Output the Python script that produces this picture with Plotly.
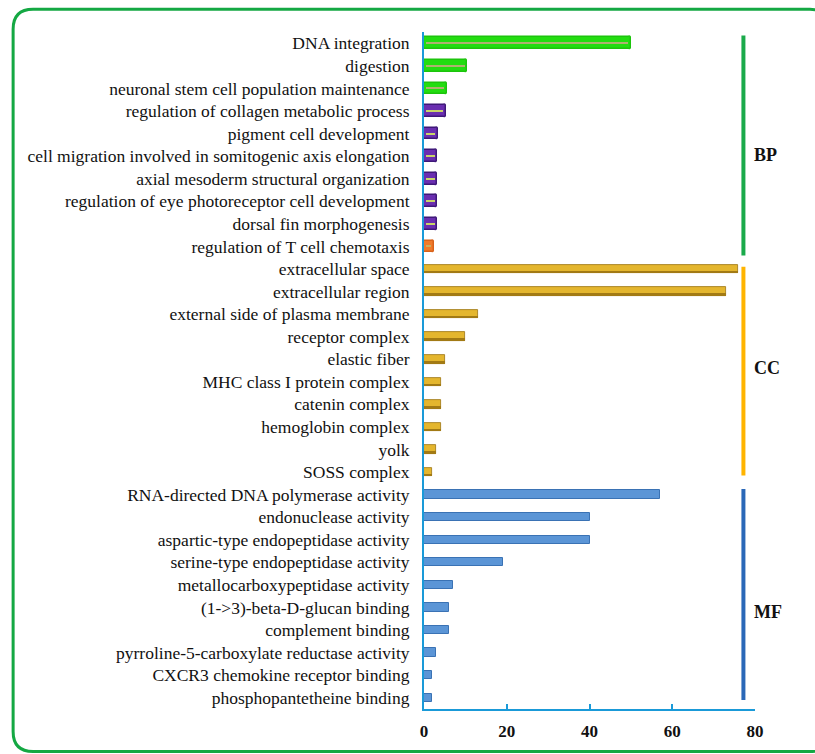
import plotly.graph_objects as go

# GO terms, top to bottom
bp_terms = [
    "DNA integration",
    "digestion",
    "neuronal stem cell population maintenance",
    "regulation of collagen metabolic process",
    "pigment cell development",
    "cell migration involved in somitogenic axis elongation",
    "axial mesoderm structural organization",
    "regulation of eye photoreceptor cell development",
    "dorsal fin morphogenesis",
    "regulation of T cell chemotaxis",
]
bp_counts = [50, 10.5, 5.5, 5.3, 3.3, 3.2, 3.2, 3.2, 3.2, 2.4]

cc_terms = [
    "extracellular space",
    "extracellular region",
    "external side of plasma membrane",
    "receptor complex",
    "elastic fiber",
    "MHC class I protein complex",
    "catenin complex",
    "hemoglobin complex",
    "yolk",
    "SOSS complex",
]
cc_counts = [76, 73, 13, 10, 5, 4, 4, 4, 3, 2]

mf_terms = [
    "RNA-directed DNA polymerase activity",
    "endonuclease activity",
    "aspartic-type endopeptidase activity",
    "serine-type endopeptidase activity",
    "metallocarboxypeptidase activity",
    "(1->3)-beta-D-glucan binding",
    "complement binding",
    "pyrroline-5-carboxylate reductase activity",
    "CXCR3 chemokine receptor binding",
    "phosphopantetheine binding",
]
mf_counts = [57, 40, 40, 19, 7, 6, 6, 3, 2, 2]

x_ticks = [0, 20, 40, 60, 80]
groups = ["BP", "CC", "MF"]

all_terms = bp_terms + cc_terms + mf_terms

# BP bars come in three colour families
bp_fill = ["#22dd10"] * 3 + ["#6a2eb0"] * 6 + ["#f07a2a"]
bp_edge = ["#1cc40c"] * 3 + ["#3e1878"] * 6 + ["#d8621a"]
bp_stripe = ["#b0b070"] * 3 + ["#c8d468"] * 6 + ["#c8b060"]

AXIS = "#1a9ad8"
SERIF = "Liberation Serif"

fig = go.Figure()

# Biological process
fig.add_trace(go.Bar(
    y=bp_terms, x=bp_counts, orientation="h", width=0.52,
    marker=dict(color=bp_fill, line=dict(color=bp_edge, width=1.5),
                cornerradius=2),
    hoverinfo="x+y",
))
fig.add_trace(go.Bar(
    y=bp_terms, x=[v - 1.2 for v in bp_counts], base=0.6, orientation="h",
    width=0.09, marker=dict(color=bp_stripe, line=dict(width=0)),
    hoverinfo="skip",
))

# Cellular component: gold bars with a darker lower edge
fig.add_trace(go.Bar(
    y=cc_terms, x=cc_counts, orientation="h", width=0.38,
    marker=dict(color="#e4b62e", line=dict(color="#9a7412", width=0.8)),
    hoverinfo="x+y",
))
fig.add_trace(go.Bar(
    y=cc_terms, x=cc_counts, orientation="h", width=0.11, offset=0.08,
    marker=dict(color="#a27a14", line=dict(width=0)),
    hoverinfo="skip",
))

# Molecular function
fig.add_trace(go.Bar(
    y=mf_terms, x=mf_counts, orientation="h", width=0.37,
    marker=dict(color="#5b95d6", line=dict(color="#3a72b4", width=1)),
    hoverinfo="x+y",
))

# Group brackets on the right
brackets = [
    ("BP", -0.35, 9.4, "#1aaa4a", 4.95),
    ("CC", 9.9, 19.15, "#ffb400", 14.4),
    ("MF", 19.75, 29.1, "#2a68b8", 25.2),
]
for name, y0, y1, col, ylab in brackets:
    fig.add_shape(type="line", xref="x", yref="y", x0=77.2, x1=77.2,
                  y0=y0, y1=y1, line=dict(color=col, width=4))
    fig.add_annotation(x=79.3, y=ylab, xref="x", yref="y", text=name,
                       showarrow=False, xanchor="left", yanchor="middle",
                       font=dict(family=SERIF, size=18, color="#111111",
                                 weight="bold"))

# Rounded green frame around the whole chart (pixel geometry -> paper)
W, H = 815, 754
ML, MR, MT, MB = 423.5, 60, 31.7, 44.6
PW, PH = W - ML - MR, H - MT - MB


def px(x):
    return (x - ML) / PW


def py(y):
    return 1 - (y - MT) / PH


fx0, fy0, fx1, fy1, rr = 12, 9, 830, 752, 20
frame = (
    f"M {px(fx0 + rr)},{py(fy0)} L {px(fx1 - rr)},{py(fy0)} "
    f"Q {px(fx1)},{py(fy0)} {px(fx1)},{py(fy0 + rr)} "
    f"L {px(fx1)},{py(fy1 - rr)} "
    f"Q {px(fx1)},{py(fy1)} {px(fx1 - rr)},{py(fy1)} "
    f"L {px(fx0 + rr)},{py(fy1)} "
    f"Q {px(fx0)},{py(fy1)} {px(fx0)},{py(fy1 - rr)} "
    f"L {px(fx0)},{py(fy0 + rr)} "
    f"Q {px(fx0)},{py(fy0)} {px(fx0 + rr)},{py(fy0)} Z"
)
fig.add_shape(type="path", xref="paper", yref="paper", path=frame,
              line=dict(color="#14a843", width=3), layer="below")

fig.update_layout(
    width=W, height=H,
    margin=dict(l=ML, r=MR, t=MT, b=MB, pad=0),
    paper_bgcolor="white", plot_bgcolor="white",
    barmode="overlay", bargap=0,
    showlegend=False,
    xaxis=dict(
        range=[0, 80], tickvals=x_ticks, ticks="inside", ticklen=5,
        tickwidth=2, tickcolor=AXIS, showgrid=False, zeroline=False,
        showline=True, linecolor=AXIS, linewidth=2,
        tickfont=dict(family=SERIF, size=17, color="#111111", weight="bold"),
        ticklabelstandoff=6,
    ),
    yaxis=dict(
        type="category", categoryorder="array", categoryarray=all_terms,
        range=[29.5, -0.5], showgrid=False, zeroline=False,
        showline=True, linecolor=AXIS, linewidth=2, ticks="",
        tickfont=dict(family=SERIF, size=17.5, color="#111111"),
        ticklabelstandoff=9,
    ),
)

fig.write_html("out.html")
